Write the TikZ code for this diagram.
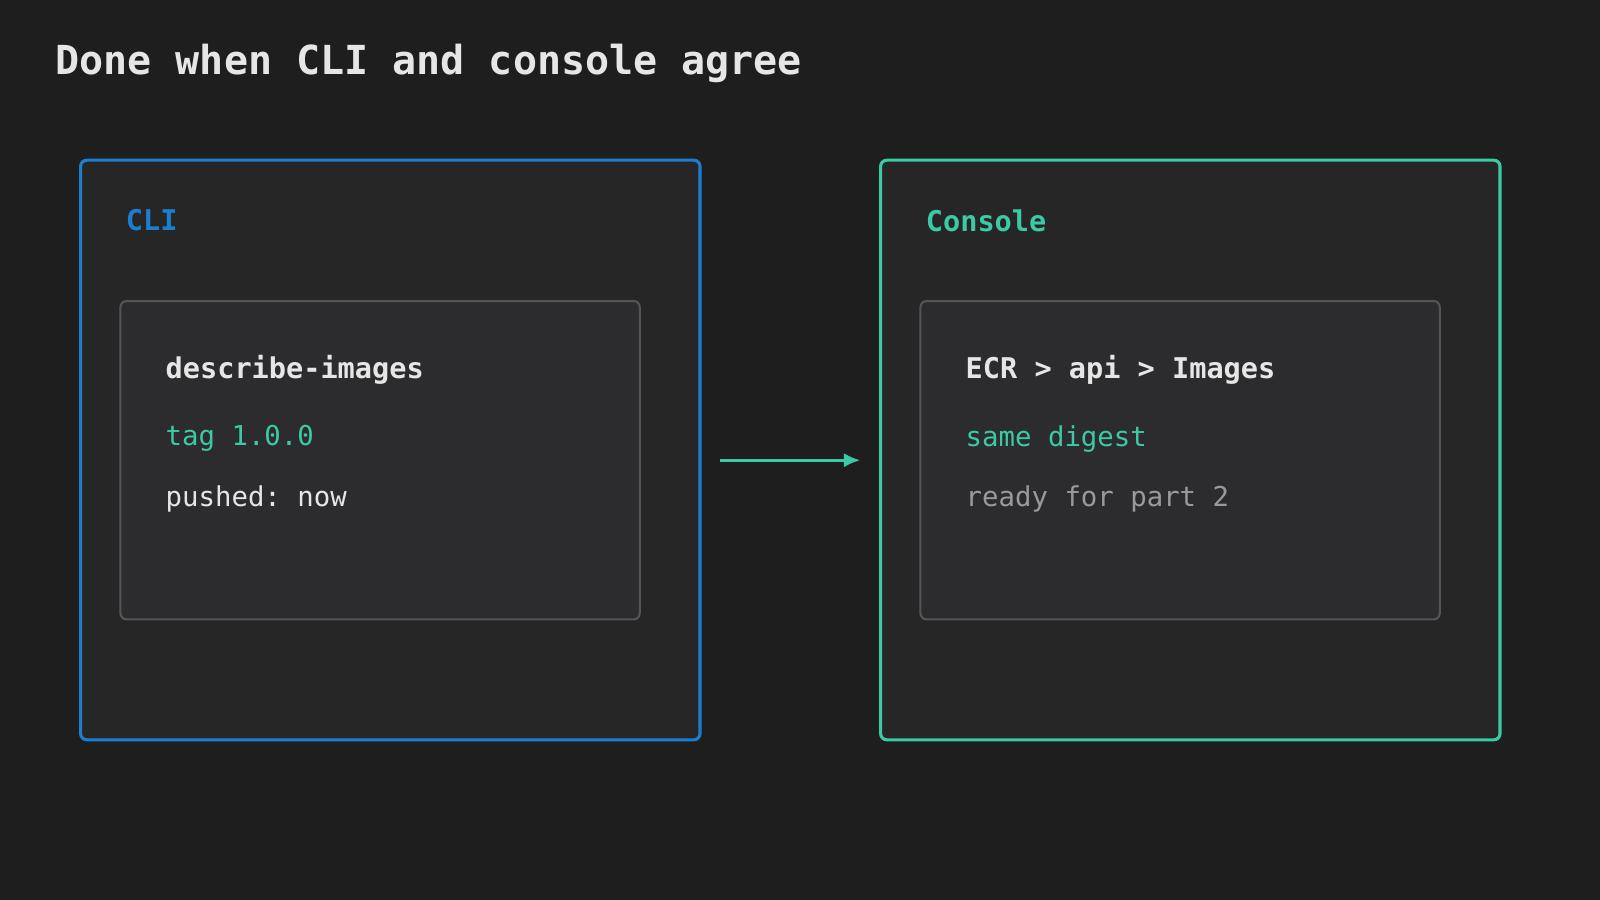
\documentclass[tikz,border=0pt]{standalone}
\usepackage{fontspec}
\setmonofont{DejaVu Sans Mono}
\usetikzlibrary{arrows.meta}
\definecolor{bg}{HTML}{1E1E1E}
\definecolor{panel}{HTML}{262627}
\definecolor{card}{HTML}{2C2C2E}
\definecolor{cardline}{HTML}{555557}
\definecolor{blue}{HTML}{1C7ED0}
\definecolor{teal}{HTML}{3CC9A5}
\definecolor{fg}{HTML}{E6E6E6}
\definecolor{muted}{HTML}{9A9A9A}
\tikzset{
 outer/.style={draw=#1,line width=1.5pt,fill=panel,rounded corners=3pt},
 inner/.style={draw=cardline,line width=1pt,fill=card,rounded corners=3pt},
 txt/.style={anchor=west,inner sep=0pt,font=\ttfamily\fontsize{13.4}{15}\selectfont},
 head/.style={txt,font=\ttfamily\bfseries\fontsize{14}{16}\selectfont},
}
\begin{document}
\begin{tikzpicture}[x=0.5pt,y=-0.5pt]
\fill[bg] (0,0) rectangle (1568,882);
\useasboundingbox (0,0) rectangle (1568,882);
\node[txt,text=fg,font=\ttfamily\bfseries\fontsize{19.6}{22}\selectfont] (title) at (54,62) {Done when CLI and console agree};
% CLI
\draw[outer=blue] (79,157) rectangle (686,725);
\node[coordinate] (cliE) at (686,451) {};
\node[head,text=blue] (clil) at (123,216) {CLI};
\draw[inner] (118,295) rectangle (627,607);
\node[head,text=fg] (c1) at (162,362) {describe-images};
\node[txt,text=teal] (c2) at (162,430) {tag 1.0.0};
\node[txt,text=fg] (c3) at (162,489) {pushed: now};
% Console
\draw[outer=teal] (863,157) rectangle (1470,725);
\node[coordinate] (conW) at (863,451) {};
\node[head,text=teal] (conl) at (907,216) {Console};
\draw[inner] (902,295) rectangle (1411,607);
\node[head,text=fg] (d1) at (946,362) {ECR > api > Images};
\node[txt,text=teal] (d2) at (946,430) {same digest};
\node[txt,text=muted] (d3) at (946,489) {ready for part 2};
\draw[teal,line width=1.3pt,-{Latex[length=8pt,width=7pt]}] ([xshift=10pt]cliE) -- ([xshift=-10pt]conW);
\end{tikzpicture}
\end{document}
